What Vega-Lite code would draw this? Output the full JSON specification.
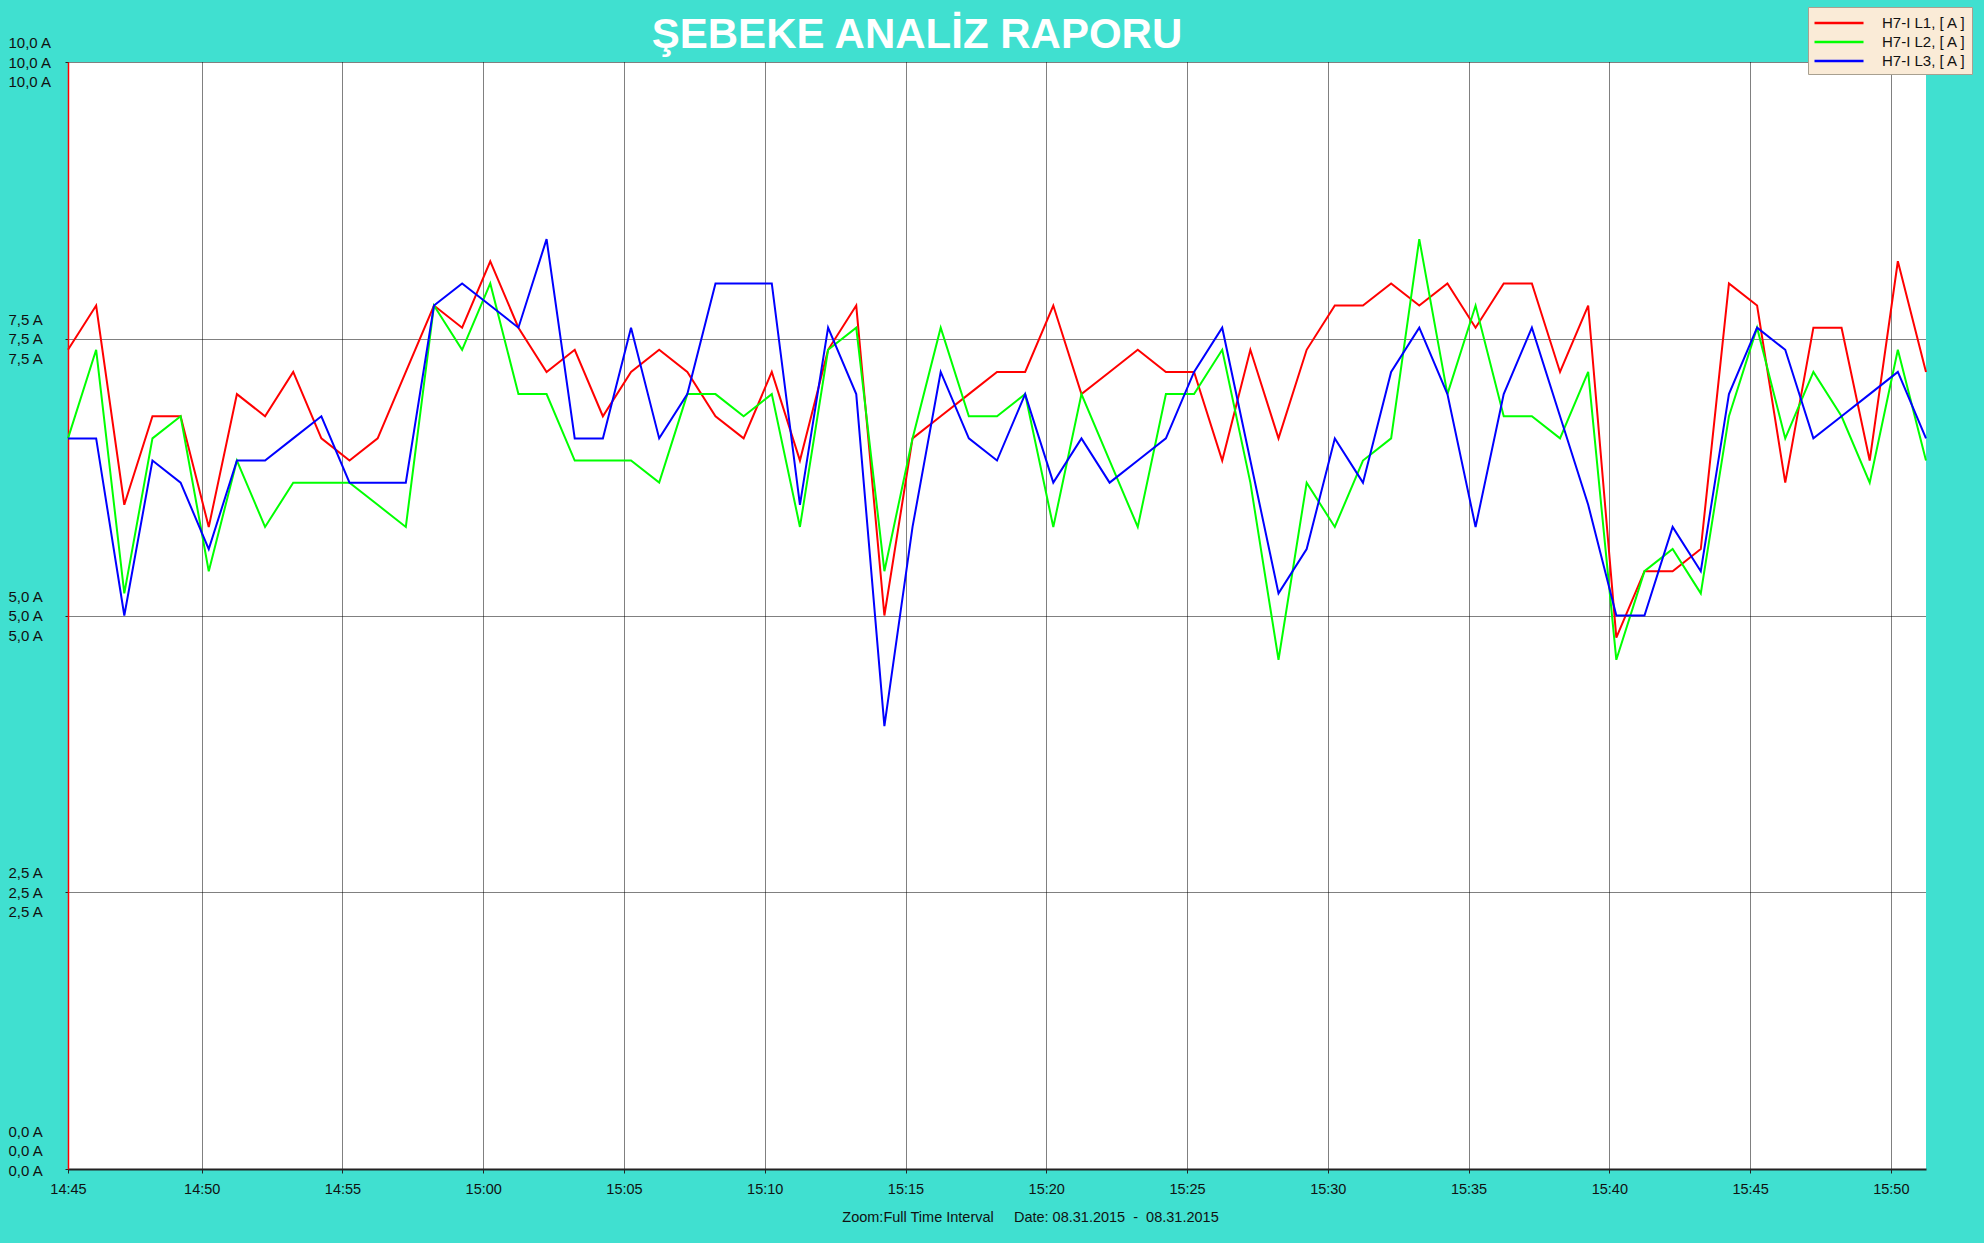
{
  "$schema": "https://vega.github.io/schema/vega-lite/v6.json",
  "width": 1858,
  "height": 1107,
  "autosize": {"type": "none"},
  "padding": {"left": 68, "top": 62, "right": 58, "bottom": 74},
  "background": "#40E0D0",
  "config": {"view": {"fill": "white", "stroke": null}, "font": "Liberation Sans"},
  "title": {
    "text": "ŞEBEKE ANALİZ RAPORU",
    "font": "Liberation Sans",
    "fontSize": 42,
    "fontWeight": "bold",
    "color": "white",
    "anchor": "middle",
    "frame": "group",
    "dx": -80,
    "dy": 42,
    "baseline": "alphabetic",
    "offset": -41
  },
  "data": {
    "values": [
      {"t": "2015-08-31T14:45:15", "L1": 7.4, "L2": 6.6, "L3": 6.6},
      {"t": "2015-08-31T14:46:15", "L1": 7.8, "L2": 7.4, "L3": 6.6},
      {"t": "2015-08-31T14:47:15", "L1": 6.0, "L2": 5.2, "L3": 5.0},
      {"t": "2015-08-31T14:48:15", "L1": 6.8, "L2": 6.6, "L3": 6.4},
      {"t": "2015-08-31T14:49:15", "L1": 6.8, "L2": 6.8, "L3": 6.2},
      {"t": "2015-08-31T14:50:15", "L1": 5.8, "L2": 5.4, "L3": 5.6},
      {"t": "2015-08-31T14:51:15", "L1": 7.0, "L2": 6.4, "L3": 6.4},
      {"t": "2015-08-31T14:52:15", "L1": 6.8, "L2": 5.8, "L3": 6.4},
      {"t": "2015-08-31T14:53:15", "L1": 7.2, "L2": 6.2, "L3": 6.6},
      {"t": "2015-08-31T14:54:15", "L1": 6.6, "L2": 6.2, "L3": 6.8},
      {"t": "2015-08-31T14:55:15", "L1": 6.4, "L2": 6.2, "L3": 6.2},
      {"t": "2015-08-31T14:56:15", "L1": 6.6, "L2": 6.0, "L3": 6.2},
      {"t": "2015-08-31T14:57:15", "L1": 7.2, "L2": 5.8, "L3": 6.2},
      {"t": "2015-08-31T14:58:15", "L1": 7.8, "L2": 7.8, "L3": 7.8},
      {"t": "2015-08-31T14:59:15", "L1": 7.6, "L2": 7.4, "L3": 8.0},
      {"t": "2015-08-31T15:00:15", "L1": 8.2, "L2": 8.0, "L3": 7.8},
      {"t": "2015-08-31T15:01:15", "L1": 7.6, "L2": 7.0, "L3": 7.6},
      {"t": "2015-08-31T15:02:15", "L1": 7.2, "L2": 7.0, "L3": 8.4},
      {"t": "2015-08-31T15:03:15", "L1": 7.4, "L2": 6.4, "L3": 6.6},
      {"t": "2015-08-31T15:04:15", "L1": 6.8, "L2": 6.4, "L3": 6.6},
      {"t": "2015-08-31T15:05:15", "L1": 7.2, "L2": 6.4, "L3": 7.6},
      {"t": "2015-08-31T15:06:15", "L1": 7.4, "L2": 6.2, "L3": 6.6},
      {"t": "2015-08-31T15:07:15", "L1": 7.2, "L2": 7.0, "L3": 7.0},
      {"t": "2015-08-31T15:08:15", "L1": 6.8, "L2": 7.0, "L3": 8.0},
      {"t": "2015-08-31T15:09:15", "L1": 6.6, "L2": 6.8, "L3": 8.0},
      {"t": "2015-08-31T15:10:15", "L1": 7.2, "L2": 7.0, "L3": 8.0},
      {"t": "2015-08-31T15:11:15", "L1": 6.4, "L2": 5.8, "L3": 6.0},
      {"t": "2015-08-31T15:12:15", "L1": 7.4, "L2": 7.4, "L3": 7.6},
      {"t": "2015-08-31T15:13:15", "L1": 7.8, "L2": 7.6, "L3": 7.0},
      {"t": "2015-08-31T15:14:15", "L1": 5.0, "L2": 5.4, "L3": 4.0},
      {"t": "2015-08-31T15:15:15", "L1": 6.6, "L2": 6.6, "L3": 5.8},
      {"t": "2015-08-31T15:16:15", "L1": 6.8, "L2": 7.6, "L3": 7.2},
      {"t": "2015-08-31T15:17:15", "L1": 7.0, "L2": 6.8, "L3": 6.6},
      {"t": "2015-08-31T15:18:15", "L1": 7.2, "L2": 6.8, "L3": 6.4},
      {"t": "2015-08-31T15:19:15", "L1": 7.2, "L2": 7.0, "L3": 7.0},
      {"t": "2015-08-31T15:20:15", "L1": 7.8, "L2": 5.8, "L3": 6.2},
      {"t": "2015-08-31T15:21:15", "L1": 7.0, "L2": 7.0, "L3": 6.6},
      {"t": "2015-08-31T15:22:15", "L1": 7.2, "L2": 6.4, "L3": 6.2},
      {"t": "2015-08-31T15:23:15", "L1": 7.4, "L2": 5.8, "L3": 6.4},
      {"t": "2015-08-31T15:24:15", "L1": 7.2, "L2": 7.0, "L3": 6.6},
      {"t": "2015-08-31T15:25:15", "L1": 7.2, "L2": 7.0, "L3": 7.2},
      {"t": "2015-08-31T15:26:15", "L1": 6.4, "L2": 7.4, "L3": 7.6},
      {"t": "2015-08-31T15:27:15", "L1": 7.4, "L2": 6.2, "L3": 6.4},
      {"t": "2015-08-31T15:28:15", "L1": 6.6, "L2": 4.6, "L3": 5.2},
      {"t": "2015-08-31T15:29:15", "L1": 7.4, "L2": 6.2, "L3": 5.6},
      {"t": "2015-08-31T15:30:15", "L1": 7.8, "L2": 5.8, "L3": 6.6},
      {"t": "2015-08-31T15:31:15", "L1": 7.8, "L2": 6.4, "L3": 6.2},
      {"t": "2015-08-31T15:32:15", "L1": 8.0, "L2": 6.6, "L3": 7.2},
      {"t": "2015-08-31T15:33:15", "L1": 7.8, "L2": 8.4, "L3": 7.6},
      {"t": "2015-08-31T15:34:15", "L1": 8.0, "L2": 7.0, "L3": 7.0},
      {"t": "2015-08-31T15:35:15", "L1": 7.6, "L2": 7.8, "L3": 5.8},
      {"t": "2015-08-31T15:36:15", "L1": 8.0, "L2": 6.8, "L3": 7.0},
      {"t": "2015-08-31T15:37:15", "L1": 8.0, "L2": 6.8, "L3": 7.6},
      {"t": "2015-08-31T15:38:15", "L1": 7.2, "L2": 6.6, "L3": 6.8},
      {"t": "2015-08-31T15:39:15", "L1": 7.8, "L2": 7.2, "L3": 6.0},
      {"t": "2015-08-31T15:40:15", "L1": 4.8, "L2": 4.6, "L3": 5.0},
      {"t": "2015-08-31T15:41:15", "L1": 5.4, "L2": 5.4, "L3": 5.0},
      {"t": "2015-08-31T15:42:15", "L1": 5.4, "L2": 5.6, "L3": 5.8},
      {"t": "2015-08-31T15:43:15", "L1": 5.6, "L2": 5.2, "L3": 5.4},
      {"t": "2015-08-31T15:44:15", "L1": 8.0, "L2": 6.8, "L3": 7.0},
      {"t": "2015-08-31T15:45:15", "L1": 7.8, "L2": 7.6, "L3": 7.6},
      {"t": "2015-08-31T15:46:15", "L1": 6.2, "L2": 6.6, "L3": 7.4},
      {"t": "2015-08-31T15:47:15", "L1": 7.6, "L2": 7.2, "L3": 6.6},
      {"t": "2015-08-31T15:48:15", "L1": 7.6, "L2": 6.8, "L3": 6.8},
      {"t": "2015-08-31T15:49:15", "L1": 6.4, "L2": 6.2, "L3": 7.0},
      {"t": "2015-08-31T15:50:15", "L1": 8.2, "L2": 7.4, "L3": 7.2},
      {"t": "2015-08-31T15:51:15", "L1": 7.2, "L2": 6.4, "L3": 6.6}
    ]
  },
  "transform": [{"fold": ["L1", "L2", "L3"], "as": ["series", "value"]}],
  "mark": {"type": "line", "strokeWidth": 2},
  "encoding": {
    "x": {
      "field": "t",
      "type": "temporal",
      "scale": {
        "domain": [
          {"year": 2015, "month": 8, "date": 31, "hours": 14, "minutes": 45, "seconds": 15},
          {"year": 2015, "month": 8, "date": 31, "hours": 15, "minutes": 51, "seconds": 15}
        ],
        "nice": false
      },
      "axis": {
        "values": [
          {"year": 2015, "month": 8, "date": 31, "hours": 14, "minutes": 45, "seconds": 15},
          {"year": 2015, "month": 8, "date": 31, "hours": 14, "minutes": 50},
          {"year": 2015, "month": 8, "date": 31, "hours": 14, "minutes": 55},
          {"year": 2015, "month": 8, "date": 31, "hours": 15, "minutes": 0},
          {"year": 2015, "month": 8, "date": 31, "hours": 15, "minutes": 5},
          {"year": 2015, "month": 8, "date": 31, "hours": 15, "minutes": 10},
          {"year": 2015, "month": 8, "date": 31, "hours": 15, "minutes": 15},
          {"year": 2015, "month": 8, "date": 31, "hours": 15, "minutes": 20},
          {"year": 2015, "month": 8, "date": 31, "hours": 15, "minutes": 25},
          {"year": 2015, "month": 8, "date": 31, "hours": 15, "minutes": 30},
          {"year": 2015, "month": 8, "date": 31, "hours": 15, "minutes": 35},
          {"year": 2015, "month": 8, "date": 31, "hours": 15, "minutes": 40},
          {"year": 2015, "month": 8, "date": 31, "hours": 15, "minutes": 45},
          {"year": 2015, "month": 8, "date": 31, "hours": 15, "minutes": 50}
        ],
        "format": "%H:%M",
        "labelFontSize": 14.5,
        "labelColor": "#111",
        "labelPadding": 9,
        "labelFlush": false,
        "labelOverlap": false,
        "tickSize": 4,
        "tickColor": "#222",
        "domainColor": "#222",
        "domainWidth": 2,
        "grid": true,
        "gridColor": "#000",
        "gridDash": [1, 1],
        "gridWidth": 1,
        "title": "Zoom:Full Time Interval\u00a0\u00a0\u00a0\u00a0\u00a0Date: 08.31.2015\u00a0\u00a0-\u00a0\u00a008.31.2015",
        "titleFontSize": 14.5,
        "titleFontWeight": "normal",
        "titleColor": "#111",
        "titleX": 962,
        "titleY": 48,
        "titleBaseline": "middle",
        "titleAlign": "center"
      }
    },
    "y": {
      "field": "value",
      "type": "quantitative",
      "scale": {"domain": [0, 10], "nice": false},
      "axis": {
        "values": [0, 2.5, 5, 7.5, 10],
        "labelExpr": "[replace(format(datum.value, '.1f'), '.', ',') + ' A', replace(format(datum.value, '.1f'), '.', ',') + ' A', replace(format(datum.value, '.1f'), '.', ',') + ' A']",
        "labelLineHeight": 19.5,
        "labelAlign": "left",
        "labelBaseline": "middle",
        "labelOffset": {"condition": {"test": "datum.value == 0", "value": -38}, "value": -19.5},
        "labelPadding": 57,
        "labelFontSize": 15,
        "labelColor": "#111",
        "labelFlush": false,
        "labelOverlap": false,
        "tickSize": 3,
        "tickColor": "#222",
        "domainColor": "#FF0000",
        "domainWidth": 1.5,
        "grid": true,
        "gridColor": "#000",
        "gridDash": [1, 1],
        "gridWidth": 1,
        "title": null
      }
    },
    "color": {
      "field": "series",
      "type": "nominal",
      "scale": {"domain": ["L1", "L2", "L3"], "range": ["#FF0000", "#00FF00", "#0000FF"]},
      "legend": {
        "orient": "none",
        "legendX": 1740,
        "legendY": -55,
        "title": null,
        "fillColor": "#FAEBD7",
        "strokeColor": "#a8a090",
        "padding": 5,
        "symbolType": "M-1,0H4.16",
        "symbolSize": 361,
        "symbolStrokeWidth": 2.5,
        "rowPadding": 0,
        "labelFontSize": 15,
        "labelColor": "#111",
        "labelOffset": 47,
        "labelExpr": "'H7-I ' + datum.label + ', [ A ]'"
      }
    }
  }
}
